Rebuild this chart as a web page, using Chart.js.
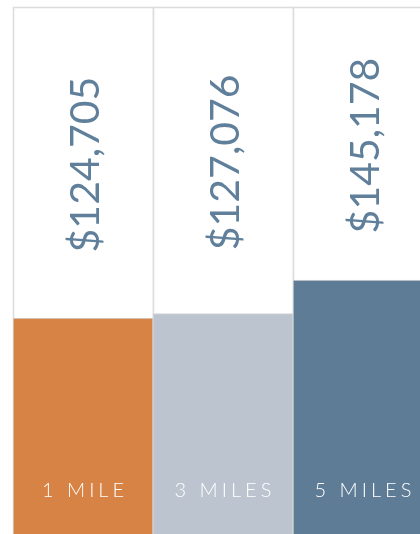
<!DOCTYPE html>
<html>
<head>
<meta charset="utf-8">
<script src="https://cdn.jsdelivr.net/npm/chart.js@4/dist/chart.umd.min.js"></script>
<style>
  html, body { margin: 0; padding: 0; background: #ffffff; overflow: hidden; width: 420px; height: 534px; }
  #wrap { position: absolute; left: 0; top: 0; width: 440px; height: 560px; }
</style>
</head>
<body>
<div id="wrap"><canvas id="c" width="440" height="560"></canvas></div>
<script>
const categories = ['1 MILE', '3 MILES', '5 MILES'];
const values = [124705, 127076, 145178];
const valueLabels = ['$124,705', '$127,076', '$145,178'];
const barColors = ['#d88346', '#bcc5cf', '#5e7c96'];
const yMin = 0;
const yMax = 292000;

const framePlugin = {
  id: 'frames',
  beforeDatasetsDraw(chart) {
    const ctx = chart.ctx, x = chart.scales.x, a = chart.chartArea;
    const w = (a.right - a.left) / categories.length;
    ctx.save();
    categories.forEach((c, i) => {
      const cx = x.getPixelForValue(i);
      ctx.fillStyle = '#ffffff';
      ctx.fillRect(cx - w / 2, a.top, w, a.bottom - a.top);
      ctx.strokeStyle = '#dcdcdc';
      ctx.lineWidth = 1.5;
      ctx.strokeRect(cx - w / 2 + 0.5, a.top + 0.5, w, a.bottom - a.top + 20);
    });
    ctx.restore();
  },
  afterDatasetsDraw(chart) {
    const ctx = chart.ctx, x = chart.scales.x, y = chart.scales.y, a = chart.chartArea;
    ctx.save();
    values.forEach((v, i) => {
      const cx = x.getPixelForValue(i);
      const top = y.getPixelForValue(v);
      const cy = (a.top + top) / 2 + 2;
      ctx.save();
      ctx.translate(cx + 3, cy);
      ctx.rotate(-Math.PI / 2);
      ctx.fillStyle = '#5f7f9b';
      ctx.font = '400 41px Lato, "Open Sans", sans-serif';
      ctx.textAlign = 'center';
      ctx.textBaseline = 'middle';
      ctx.fillText(valueLabels[i], 0, 0);
      ctx.restore();

      // category label inside bar
      const txt = categories[i];
      ctx.font = '300 20px Lato, "Open Sans", sans-serif';
      ctx.fillStyle = '#ffffff';
      ctx.textBaseline = 'alphabetic';
      ctx.textAlign = 'left';
      const sp = 4.0;
      let total = 0;
      const widths = [...txt].map(ch => ctx.measureText(ch).width);
      widths.forEach(wd => total += wd);
      total += sp * (txt.length - 1);
      let px = cx - total / 2;
      [...txt].forEach((ch, k) => {
        ctx.fillText(ch, px, 497);
        px += widths[k] + sp;
      });
    });
    ctx.restore();
  }
};

new Chart(document.getElementById('c'), {
  type: 'bar',
  data: {
    labels: categories,
    datasets: [{
      data: values,
      backgroundColor: barColors,
      borderColor: '#d6d6d6',
      borderWidth: 1,
      categoryPercentage: 1,
      barPercentage: 1
    }]
  },
  options: {
    responsive: false,
    animation: false,
    layout: { padding: { top: 7, left: 13, right: 7, bottom: 10 } },
    plugins: { legend: { display: false }, tooltip: { enabled: false } },
    scales: {
      x: { display: false },
      y: { display: false, min: yMin, max: yMax }
    }
  },
  plugins: [framePlugin]
});
</script>
</body>
</html>
